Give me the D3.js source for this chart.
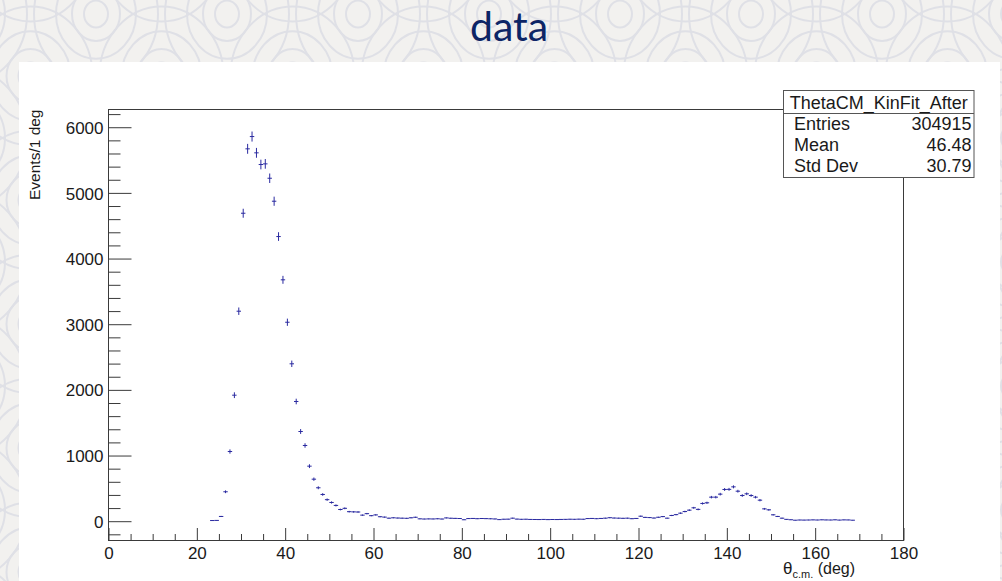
<!DOCTYPE html>
<html>
<head>
<meta charset="utf-8">
<script src="https://cdn.jsdelivr.net/npm/d3@7"></script>
<style>
  html, body { margin: 0; padding: 0; background: #f2f1ef; }
  svg { display: block; }
  .root-text { font-family: "Liberation Sans", Arial, Helvetica, sans-serif; fill: #1a1a1a; }
</style>
</head>
<body>
<svg id="chart" width="1002" height="581"></svg>
<script>
// ThetaCM_KinFit_After: counts per 1-degree bin, first filled bin starts at 23 deg
const firstBinLow = 23;
const binWidth = 1;
const counts = [
  10, 12, 72, 448, 1061, 1919, 3198, 4690, 5671, 5858,      // 23-32
  5610, 5432, 5442, 5223, 4873, 4335, 3676, 3030, 2397, 1823, // 33-42
  1366, 1153, 838, 640, 509, 407, 328, 285, 240, 178,        // 43-52
  196, 145, 142, 140, 92, 115, 84, 96, 68, 62,               // 53-62
  46, 52, 48, 46, 44, 52, 60, 36, 33, 35,                    // 63-72
  34, 37, 33, 50, 45, 43, 41, 22, 40, 42,                    // 73-82
  38, 41, 39, 37, 34, 24, 30, 31, 46, 32,                    // 83-92
  29, 30, 27, 26, 25, 27, 24, 26, 25, 27,                    // 93-102
  28, 30, 29, 31, 30, 40, 42, 38, 42, 46,                    // 103-112
  53, 48, 46, 44, 46, 38, 42, 76, 58, 55,                    // 113-122
  48, 60, 70, 46, 87, 100, 122, 147, 168, 204,               // 123-132
  180, 270, 280, 366, 366, 412, 483, 485, 523, 457,          // 133-142
  391, 417, 391, 366, 320, 188, 173, 97, 72, 46,             // 143-152
  28, 22, 15, 18, 17, 18, 20, 18, 21, 19,                    // 153-162
  18, 21, 17, 20, 19, 15                                     // 163-168
];

const xMajorTicks = [0, 20, 40, 60, 80, 100, 120, 140, 160, 180];
const yMajorTicks = [0, 1000, 2000, 3000, 4000, 5000, 6000];
const xMinorStep = 5;
const yMinorStep = 200;

const pageTitle = "data";
const yTitle = "Events/1 deg";
const histName = "ThetaCM_KinFit_After";
const statLabels = ["Entries", "Mean", "Std Dev"];
const statValues = ["304915", "46.48", "30.79"];

const W = 1002, H = 581;
const frame = { left: 108.5, right: 903.5, top: 109.5, bottom: 540.5 };

const svg = d3.select("#chart");

// ---- slide background with ring motif ----
const bg = svg.append("g");
bg.append("rect").attr("width", W).attr("height", H).attr("fill", "#f2f1ef");
const ringRadii = [12, 24, 40, 62];
const ringCenters = [];
for (let j = -1; j < 6; j++) {
  for (let k = -1; k < 9; k++) {
    ringCenters.push([96 + 131 * k, 14 + 124 * j]);
    ringCenters.push([30.5 + 131 * k, 76 + 124 * j]);
  }
}
ringCenters.forEach(([cx, cy]) => {
  ringRadii.forEach(r => {
    bg.append("ellipse")
      .attr("cx", cx).attr("cy", cy)
      .attr("rx", r).attr("ry", r * 1.12)
      .attr("fill", "none")
      .attr("stroke", "#dfe0e6")
      .attr("stroke-width", 2);
  });
});

// slide title
svg.append("text")
  .attr("x", 509).attr("y", 41)
  .attr("text-anchor", "middle")
  .attr("font-family", "Lato, 'Open Sans', sans-serif")
  .attr("font-size", 41)
  .attr("fill", "#0d2566")
  .text(pageTitle);

// white canvas of the histogram
svg.append("rect")
  .attr("x", 19).attr("y", 62)
  .attr("width", 981).attr("height", H - 62)
  .attr("fill", "#ffffff");

// ---- scales ----
const x = d3.scaleLinear().domain([0, 180]).range([frame.left, frame.right]);
const y = d3.scaleLinear().domain([-294, 6270]).range([frame.bottom, frame.top]);

const axisColor = "#3a3a3a";

// frame
svg.append("rect")
  .attr("x", frame.left).attr("y", frame.top)
  .attr("width", frame.right - frame.left)
  .attr("height", frame.bottom - frame.top)
  .attr("fill", "none")
  .attr("stroke", axisColor)
  .attr("stroke-width", 1);

// ---- y axis: ticks pointing into the frame ----
const yMinor = d3.range(-200, 6270, yMinorStep).filter(v => v % 1000 !== 0);
const yAxisMinor = svg.append("g")
  .attr("transform", `translate(${frame.left},0)`)
  .call(d3.axisLeft(y).tickValues(yMinor).tickSize(-12).tickFormat(""));
const yAxisMajor = svg.append("g")
  .attr("transform", `translate(${frame.left},0)`)
  .call(d3.axisLeft(y).tickValues(yMajorTicks).tickSize(-23).tickPadding(5).tickFormat(d3.format("d")));

// ---- x axis: ticks pointing up into the frame ----
const xMinor = d3.range(0, 181, xMinorStep).filter(v => v % 20 !== 0);
const xAxisMinor = svg.append("g")
  .attr("transform", `translate(0,${frame.bottom})`)
  .call(d3.axisBottom(x).tickValues(xMinor).tickSize(-6.5).tickFormat(""));
const xAxisMajor = svg.append("g")
  .attr("transform", `translate(0,${frame.bottom})`)
  .call(d3.axisBottom(x).tickValues(xMajorTicks).tickSize(-12.5).tickPadding(6).tickFormat(d3.format("d")));

[yAxisMinor, yAxisMajor, xAxisMinor, xAxisMajor].forEach(g => {
  g.select(".domain").remove();
  g.selectAll(".tick line").attr("stroke", axisColor).attr("stroke-width", 1);
  g.selectAll(".tick text")
    .attr("class", "root-text")
    .attr("font-size", 17)
    .attr("fill", "#1a1a1a");
});
yAxisMajor.selectAll(".tick text").attr("dy", "0.36em");

// ---- axis titles ----
svg.append("text")
  .attr("class", "root-text")
  .attr("transform", `translate(40,${frame.top}) rotate(-90)`)
  .attr("text-anchor", "end")
  .attr("font-size", 15.5)
  .text(yTitle);

const xt = svg.append("text")
  .attr("class", "root-text")
  .attr("x", 855).attr("y", 574)
  .attr("text-anchor", "end")
  .attr("font-size", 16);
xt.append("tspan").attr("font-size", 17).text("θ");
xt.append("tspan").attr("font-size", 11).attr("dy", 4).text("c.m.");
xt.append("tspan").attr("dy", -4).text(" (deg)");

// ---- histogram points with error bars ----
const bins = counts.map((c, i) => ({
  lo: firstBinLow + i * binWidth,
  hi: firstBinLow + (i + 1) * binWidth,
  mid: firstBinLow + (i + 0.5) * binWidth,
  n: c,
  err: Math.sqrt(c)
}));

const markColor = "#2a2aa0";
const pts = svg.append("g");
pts.selectAll("line.h").data(bins).join("line")
  .attr("class", "h")
  .attr("x1", d => x(d.lo)).attr("x2", d => x(d.hi))
  .attr("y1", d => y(d.n)).attr("y2", d => y(d.n))
  .attr("stroke", markColor).attr("stroke-width", 1);
pts.selectAll("line.v").data(bins).join("line")
  .attr("class", "v")
  .attr("x1", d => x(d.mid)).attr("x2", d => x(d.mid))
  .attr("y1", d => y(d.n + d.err)).attr("y2", d => y(d.n - d.err))
  .attr("stroke", markColor).attr("stroke-width", 1);

// ---- statistics box ----
const box = { x: 783.5, y: 90.5, w: 190.5, h: 87, titleH: 23 };
const stat = svg.append("g");
stat.append("rect")
  .attr("x", box.x).attr("y", box.y)
  .attr("width", box.w).attr("height", box.h)
  .attr("fill", "#ffffff")
  .attr("stroke", "#555").attr("stroke-width", 1);
stat.append("line")
  .attr("x1", box.x).attr("x2", box.x + box.w)
  .attr("y1", box.y + box.titleH).attr("y2", box.y + box.titleH)
  .attr("stroke", "#555").attr("stroke-width", 1);
stat.append("text")
  .attr("class", "root-text")
  .attr("x", box.x + box.w / 2).attr("y", box.y + 18)
  .attr("text-anchor", "middle")
  .attr("font-size", 18)
  .text(histName);
const rowH = (box.h - box.titleH) / statLabels.length;
statLabels.forEach((lab, i) => {
  const base = box.y + box.titleH + rowH * i + 16.3;
  stat.append("text").attr("class", "root-text")
    .attr("x", box.x + 10.5).attr("y", base)
    .attr("font-size", 18).text(lab);
  stat.append("text").attr("class", "root-text")
    .attr("x", box.x + box.w - 2.5).attr("y", base)
    .attr("text-anchor", "end")
    .attr("font-size", 18).text(statValues[i]);
});
</script>
</body>
</html>
